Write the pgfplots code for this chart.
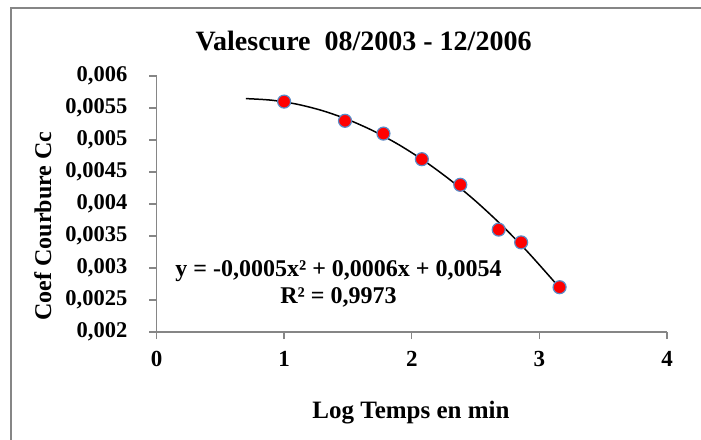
\documentclass[border=0pt]{standalone}
\usepackage{fontspec}
\setmainfont{Liberation Serif}
\usepackage{pgfplots}
\pgfplotsset{compat=1.18}
\definecolor{framegray}{RGB}{134,134,134}
\definecolor{markedge}{RGB}{90,140,200}
\definecolor{markfill}{RGB}{255,0,0}

% measured points: log10 of time (min) vs. curvature coefficient
\pgfplotstableread{
x      cc
1.0000 0.0056
1.4771 0.0053
1.7782 0.0051
2.0792 0.0047
2.3802 0.0043
2.6812 0.0036
2.8573 0.0034
3.1584 0.0027
}\measured

% second-order polynomial trend, sampled
\pgfplotstableread{
x      cc
0.70   0.0056468
0.90   0.0056223
1.10   0.0055595
1.30   0.0054584
1.50   0.0053189
1.70   0.0051411
1.90   0.0049249
2.10   0.0046704
2.30   0.0043776
2.50   0.0040465
2.70   0.0036770
2.90   0.0032692
3.10   0.0028231
3.1584 0.0026861
}\trend

\begin{document}
\begin{tikzpicture}[x=1pt,y=1pt]
\useasboundingbox (0,0) rectangle (701,439);
\draw[framegray, line width=2pt] (11,-5) -- (11,430.5) -- (710,430.5);
\begin{axis}[
  at={(156.5pt,107pt)}, anchor=south west,
  scale only axis, width=510.5pt, height=256pt,
  xmin=0, xmax=4, ymin=0.002, ymax=0.006,
  xtick={0,1,2,3,4},
  ytick={0.002,0.0025,0.003,0.0035,0.004,0.0045,0.005,0.0055,0.006},
  axis x line*=bottom, axis y line*=left,
  axis line style={framegray, line width=1.3pt, -},
  tick align=outside, major tick length=7pt,
  tick style={framegray, line width=1.3pt},
  scaled y ticks=false,
  xticklabel={\pgfmathprintnumber{\tick}},
  yticklabel={\pgfmathprintnumber{\tick}},
  xticklabel style={font=\fontsize{23}{23}\selectfont\bfseries, anchor=north, inner sep=0pt, yshift=-12pt,
    /pgf/number format/assume math mode=true},
  yticklabel style={font=\fontsize{22.5}{22.5}\selectfont\bfseries, anchor=east, inner sep=0pt, xshift=-22pt,
    /pgf/number format/.cd, fixed, precision=4, use comma, assume math mode=true},
  clip=false,
]
\addplot[only marks, mark=*, mark size=6.5pt,
  mark options={fill=markfill, draw=markedge, line width=1.2pt}] table[x=x, y=cc] {\measured};
\addplot[black, line width=1.5pt, smooth, no marks] table[x=x, y=cc] {\trend};
\end{axis}
\node[anchor=base, font=\fontsize{28}{28}\selectfont\bfseries] at (363.5,388.5) {Valescure\ \ 08/2003 - 12/2006};
\node[anchor=base, font=\fontsize{25}{25}\selectfont\bfseries] at (411,20.7) {Log Temps en min};
\node[anchor=base, rotate=90, font=\fontsize{24}{24}\selectfont\bfseries] at (51,213) {Coef Courbure Cc};
\node[anchor=base, font=\fontsize{24}{24}\selectfont\bfseries] at (338.5,162) {y = -0,0005x² + 0,0006x + 0,0054};
\node[anchor=base, font=\fontsize{24}{24}\selectfont\bfseries] at (338.5,135) {R² = 0,9973};
\end{tikzpicture}
\end{document}
